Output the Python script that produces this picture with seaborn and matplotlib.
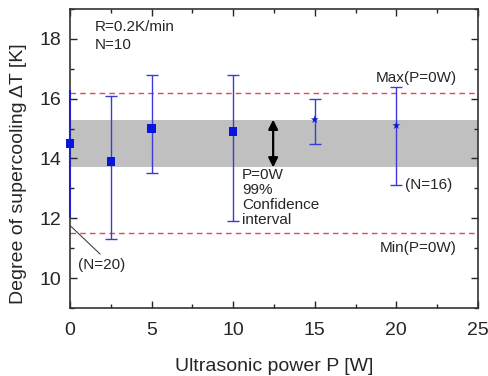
import numpy as np
import pandas as pd
import matplotlib
matplotlib.use("Agg")
import matplotlib.pyplot as plt
from matplotlib.ticker import MultipleLocator
import seaborn as sns

# measured supercooling vs ultrasonic power
power = [0, 2.5, 5, 10, 15, 20]
dT_mean = [14.5, 13.9, 15.0, 14.9, 15.3, 15.1]
dT_low = [12.0, 11.3, 13.5, 11.9, 14.5, 13.1]
dT_high = [16.3, 16.1, 16.8, 16.8, 16.0, 16.4]
series = ["N=10", "N=10", "N=10", "N=10", "N=16", "N=16"]

# reference values at P=0W
ci_low, ci_high = 13.7, 15.3
max_p0, min_p0 = 16.2, 11.5

sns.set_style("ticks")
plt.rcParams['font.family'] = ['Liberation Sans', 'DejaVu Sans']

fig = plt.figure(figsize=(4.88, 3.76), dpi=100)
ax = fig.add_axes([0.1434, 0.181, 0.836, 0.795])

df = pd.DataFrame({"P": power, "dT": dT_mean, "lo": dT_low, "hi": dT_high, "set": series})

ax.axhspan(ci_low, ci_high, color="#c0c0c0", lw=0, zorder=0)
ax.axhline(max_p0, color="#e8474f", ls=(0, (4, 3)), lw=1, zorder=1)
ax.axhline(min_p0, color="#e8474f", ls=(0, (4, 3)), lw=1, zorder=1)

# P=0 bar sits on the spine, drawn without caps
first = df.iloc[:1]
rest = df.iloc[1:]
ax.errorbar(first["P"], first["dT"],
            yerr=[first["dT"] - first["lo"], first["hi"] - first["dT"]],
            fmt="none", ecolor="#2020c8", elinewidth=1.5, capsize=0, zorder=4, clip_on=False)
ax.errorbar(rest["P"], rest["dT"],
            yerr=[rest["dT"] - rest["lo"], rest["hi"] - rest["dT"]],
            fmt="none", ecolor="#3a3ad8", elinewidth=1, capsize=4, capthick=1,
            zorder=2, clip_on=False)
sns.scatterplot(data=df, x="P", y="dT", style="set", markers={"N=10": "s", "N=16": "*"},
                color="#0a14e0", s=36, edgecolor="none", legend=False, ax=ax,
                zorder=5, clip_on=False)

# confidence interval arrow
ax.annotate("", xy=(12.45, ci_low), xytext=(12.45, ci_high),
            arrowprops=dict(arrowstyle="<|-|>", color="black", lw=1.6,
                            mutation_scale=14, shrinkA=0, shrinkB=0))

ax.text(1.5, 18.62, "R=0.2K/min\nN=10", fontsize=11, va="top", linespacing=1.3)
ax.text(10.55, 13.68, "P=0W\n99%\nConfidence\ninterval", fontsize=11, va="top", linespacing=1.08)
ax.text(23.7, 16.45, "Max(P=0W)", fontsize=11, ha="right", va="bottom")
ax.text(23.7, 11.25, "Min(P=0W)", fontsize=11, ha="right", va="top")
ax.text(20.5, 13.1, "(N=16)", fontsize=11, va="center")
ax.text(0.5, 10.45, "(N=20)", fontsize=11, va="center")
ax.annotate("", xy=(0.02, 11.75), xytext=(1.85, 10.8),
            arrowprops=dict(arrowstyle="-", color="#444444", lw=0.8,
                            shrinkA=0, shrinkB=0))

ax.set_xlim(0, 25)
ax.set_ylim(9, 19)
ax.xaxis.set_major_locator(MultipleLocator(5))
ax.xaxis.set_minor_locator(MultipleLocator(2.5))
ax.yaxis.set_major_locator(MultipleLocator(2))
ax.yaxis.set_minor_locator(MultipleLocator(1))
ax.tick_params(which="both", direction="in", top=True, right=True,
               labelsize=14, width=1)
ax.tick_params(which="major", length=5)
ax.tick_params(which="minor", length=3)
ax.tick_params(axis="x", pad=10)
ax.tick_params(axis="y", pad=6)
for s in ax.spines.values():
    s.set_linewidth(1.2)
    s.set_color("#333333")

ax.set_xlabel("Ultrasonic power P [W]", fontsize=14, labelpad=14)
ax.set_ylabel("Degree of supercooling ΔT [K]", fontsize=14, labelpad=6)
ax.yaxis.set_label_coords(-0.105, 0.45)

fig.savefig("out.png", dpi=100)
